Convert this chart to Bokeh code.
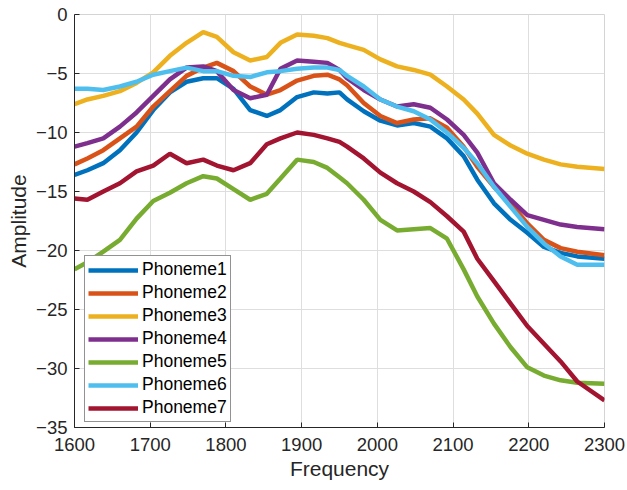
from bokeh.plotting import figure
from bokeh.models import Range1d, FixedTicker, Legend, LegendItem
from bokeh.embed import file_html
from bokeh.resources import INLINE

freq = [1600, 1617, 1638, 1660, 1682, 1704, 1726, 1748, 1770, 1788, 1810, 1832, 1854, 1872,
        1894, 1916, 1934, 1950, 1960, 1982, 2004, 2026, 2048, 2070, 2092, 2114, 2132, 2154,
        2176, 2198, 2220, 2242, 2264, 2300]

phoneme1 = [-13.6, -13.2, -12.6, -11.5, -10.0, -8.1, -6.6, -5.7, -5.4, -5.4, -6.3, -8.1, -8.6, -8.1,
            -7.0, -6.6, -6.7, -6.6, -7.2, -8.2, -9.0, -9.4, -9.2, -9.5, -10.5, -12.0, -14.0, -16.0,
            -17.4, -18.5, -19.7, -20.2, -20.5, -20.7]
phoneme2 = [-12.7, -12.2, -11.5, -10.5, -9.5, -7.8, -6.5, -5.2, -4.5, -4.1, -4.8, -6.1, -6.8, -6.4,
            -5.6, -5.2, -5.1, -5.5, -6.0, -7.5, -8.6, -9.2, -8.9, -8.8, -9.6, -11.2, -12.9, -14.6,
            -16.0, -17.7, -19.1, -19.8, -20.1, -20.4]
phoneme3 = [-7.6, -7.2, -6.9, -6.5, -5.8, -4.9, -3.5, -2.4, -1.5, -1.9, -3.2, -3.9, -3.6, -2.4,
            -1.7, -1.8, -2.0, -2.4, -2.6, -3.0, -3.8, -4.4, -4.7, -5.1, -6.1, -7.2, -8.4, -10.2,
            -11.1, -11.8, -12.3, -12.7, -12.9, -13.1]
phoneme4 = [-11.2, -10.9, -10.5, -9.5, -8.3, -6.9, -5.5, -4.5, -4.4, -4.8, -6.4, -7.1, -6.8, -4.6,
            -3.9, -4.0, -4.1, -4.7, -5.4, -6.4, -7.2, -7.8, -7.6, -7.9, -8.9, -10.2, -11.7, -14.3,
            -15.7, -17.0, -17.4, -17.8, -18.0, -18.2]
phoneme5 = [-21.6, -21.0, -20.1, -19.1, -17.3, -15.8, -15.1, -14.3, -13.7, -13.9, -14.8, -15.7, -15.2, -13.9,
            -12.3, -12.5, -13.0, -13.8, -14.3, -15.7, -17.4, -18.3, -18.2, -18.1, -19.0, -21.6, -23.9, -26.2,
            -28.2, -29.9, -30.6, -31.0, -31.2, -31.3]
phoneme6 = [-6.3, -6.3, -6.4, -6.1, -5.7, -5.1, -4.8, -4.5, -4.8, -4.8, -5.2, -5.3, -4.9, -4.8,
            -4.6, -4.5, -4.5, -4.7, -5.2, -6.1, -7.2, -7.8, -8.2, -8.9, -10.0, -11.3, -12.6, -14.6,
            -16.3, -18.0, -19.4, -20.5, -21.2, -21.2]
phoneme7 = [-15.6, -15.7, -15.0, -14.3, -13.3, -12.8, -11.8, -12.6, -12.3, -12.8, -13.2, -12.6, -11.0, -10.5,
            -10.0, -10.2, -10.5, -10.8, -11.2, -12.2, -13.4, -14.3, -15.0, -15.9, -17.1, -18.4, -20.7, -22.6,
            -24.5, -26.4, -27.9, -29.4, -31.1, -32.7]

names = ["Phoneme1", "Phoneme2", "Phoneme3", "Phoneme4", "Phoneme5", "Phoneme6", "Phoneme7"]
series = [phoneme1, phoneme2, phoneme3, phoneme4, phoneme5, phoneme6, phoneme7]
colors = ["#0072BD", "#D95319", "#EDB120", "#7E2F8E", "#77AC30", "#4DBEEE", "#A2142F"]

x_ticks = [1600, 1700, 1800, 1900, 2000, 2100, 2200, 2300]
y_ticks = [-35, -30, -25, -20, -15, -10, -5, 0]

FONT = "Liberation Sans"
TXT = "#262626"

p = figure(frame_width=530, frame_height=413, output_backend="svg", toolbar_location=None,
           x_range=Range1d(1600, 2300), y_range=Range1d(-35, 0),
           min_border_left=74, min_border_right=23, min_border_top=14, min_border_bottom=63)
p.background_fill_color = "white"
p.border_fill_color = "white"
p.outline_line_color = "#d4d4d4"
p.outline_line_width = 1

renderers = []
for name, ys, c in zip(names, series, colors):
    r = p.line(freq, ys, line_color=c, line_width=4.5)
    renderers.append((name, r))

for ax, ticks in ((p.xaxis[0], x_ticks), (p.yaxis[0], y_ticks)):
    ax.ticker = FixedTicker(ticks=ticks)
    ax.major_tick_in = 5
    ax.major_tick_out = 0
    ax.minor_tick_in = 0
    ax.minor_tick_out = 0
    ax.axis_line_color = TXT
    ax.major_tick_line_color = TXT
    ax.major_label_text_font = FONT
    ax.major_label_text_font_size = "18.5px"
    ax.major_label_text_color = TXT
    ax.axis_label_text_font = FONT
    ax.axis_label_text_font_size = "21px"
    ax.axis_label_text_font_style = "normal"
    ax.axis_label_text_color = TXT

p.xaxis.axis_label = "Frequency"
p.yaxis.axis_label = "Amplitude"
p.xaxis.major_label_standoff = 10
p.xaxis.axis_label_standoff = 3
p.yaxis.major_label_standoff = 7
p.yaxis.axis_label_standoff = 3

p.xgrid.ticker = FixedTicker(ticks=x_ticks)
p.ygrid.ticker = FixedTicker(ticks=y_ticks)
for g in (p.xgrid[0], p.ygrid[0]):
    g.grid_line_color = "#dedede"
    g.grid_line_width = 1

legend = Legend(items=[LegendItem(label=n, renderers=[r]) for n, r in renderers],
                location=(10, 5))
legend.label_text_font = FONT
legend.label_text_font_size = "17.5px"
legend.label_text_color = "#000000"
legend.glyph_width = 50
legend.glyph_height = 20
legend.spacing = 2
legend.padding = 3
legend.margin = 0
legend.label_standoff = 4
legend.label_height = 20
legend.border_line_color = "#262626"
legend.border_line_width = 1
legend.background_fill_color = "white"
legend.background_fill_alpha = 1
p.add_layout(legend)

open("out.html", "w").write(file_html(p, INLINE))
